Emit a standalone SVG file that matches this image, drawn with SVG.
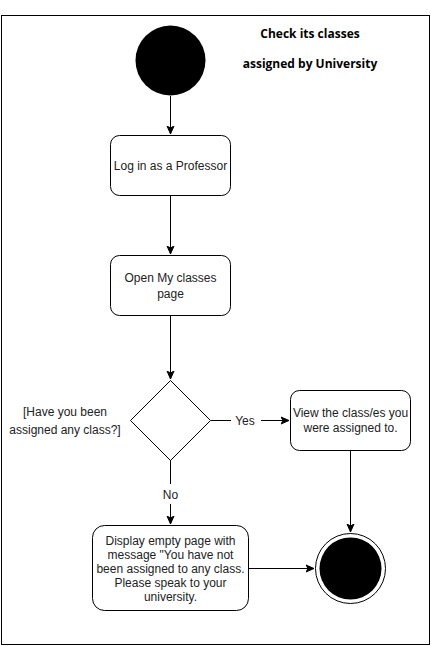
<svg xmlns="http://www.w3.org/2000/svg" width="431" height="646" viewBox="0 0 431 646">
<style>
.frame{fill:#fff;stroke:#000;stroke-width:1}
.box{fill:#fff;stroke:#000;stroke-width:1}
.t{font-family:"Liberation Sans",Arial,sans-serif;font-size:12px;fill:#222;text-anchor:middle}
.title{font-family:"Open Sans","Liberation Sans",sans-serif;font-size:12px;font-weight:bold;fill:#000;text-anchor:middle}
.edge{fill:none;stroke:#000;stroke-width:1}
</style>
<defs>
<marker id="arr" markerWidth="10" markerHeight="10" refX="8" refY="5" orient="auto" markerUnits="userSpaceOnUse">
<path d="M0,1.5 L8,5 L0,8.5 L2,5 Z" fill="#000" stroke="#000"/>
</marker>
</defs>
<rect class="frame" x="1.5" y="15.5" width="428" height="629"/>
<text class="title" x="310" y="38">Check its classes</text>
<text class="title" x="310" y="68">assigned by University</text>
<g id="edges">
<path class="edge" d="M170.5,96 V134" marker-end="url(#arr)"/>
<path class="edge" d="M170.5,195 V254" marker-end="url(#arr)"/>
<path class="edge" d="M170.5,315 V379" marker-end="url(#arr)"/>
<path class="edge" d="M211,420.5 H231"/>
<path class="edge" d="M261,420.5 H289" marker-end="url(#arr)"/>
<text class="t" x="245" y="424.5">Yes</text>
<path class="edge" d="M170.5,460 V484"/>
<path class="edge" d="M170.5,504 V524" marker-end="url(#arr)"/>
<text class="t" x="170.5" y="499">No</text>
<path class="edge" d="M350.5,450 V532" marker-end="url(#arr)"/>
<path class="edge" d="M249,568.5 H314" marker-end="url(#arr)"/>
</g>
<g id="start"><circle cx="170.5" cy="60.5" r="35" fill="#000"/></g>
<g id="login">
<rect class="box" x="110.5" y="135.5" width="120" height="60" rx="9"/>
<text class="t" x="170.5" y="169.5">Log in as a Professor</text>
</g>
<g id="open">
<rect class="box" x="110.5" y="255.5" width="120" height="60" rx="9"/>
<text class="t" x="170.5" y="282">Open My classes</text>
<text class="t" x="170.5" y="298">page</text>
</g>
<g id="decision">
<path class="box" d="M170.5,380.5 L210.5,420.5 L170.5,460.5 L130.5,420.5 Z"/>
<text class="t" x="65" y="416">[Have you been</text>
<text class="t" x="65" y="434">assigned any class?]</text>
</g>
<g id="view">
<rect class="box" x="290.5" y="390.5" width="120" height="60" rx="9"/>
<text class="t" x="350.5" y="417">View the class/es you</text>
<text class="t" x="350.5" y="432">were assigned to.</text>
</g>
<g id="empty">
<rect class="box" x="92.5" y="525.5" width="156" height="85" rx="12"/>
<text class="t" x="170.5" y="545">Display empty page with</text>
<text class="t" x="170.5" y="559">message "You have not</text>
<text class="t" x="170.5" y="573">been assigned to any class.</text>
<text class="t" x="170.5" y="587">Please speak to your</text>
<text class="t" x="170.5" y="601">university.</text>
</g>
<g id="end">
<circle cx="350.5" cy="568.5" r="35" fill="#fff" stroke="#000"/>
<circle cx="350.5" cy="568.5" r="31" fill="#000"/>
</g>
</svg>
